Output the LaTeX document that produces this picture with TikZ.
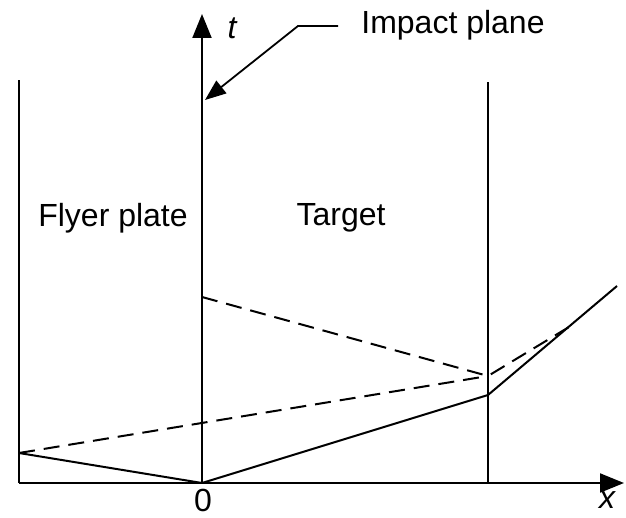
\documentclass[tikz,border=0pt]{standalone}
\usepackage{fontspec}
\setmainfont{Liberation Sans}
\usetikzlibrary{arrows.meta}
\tikzset{
  axis/.style={line width=2pt, -{Triangle[length=24pt, width=19pt]}},
  plate/.style={line width=2pt},
  wave/.style={line width=2pt, line join=round},
  release/.style={line width=2pt, dash pattern=on 16pt off 9pt},
  leader/.style={line width=1.8pt, -{Triangle[length=21pt, width=16pt]}},
  lbl/.style={font=\fontsize{32}{36}\selectfont, inner sep=0pt}
}

\begin{document}
\begin{tikzpicture}[x=1pt, y=-1pt]
  \useasboundingbox (0,0) rectangle (626,518);
  % points of the x-t diagram
  \coordinate (origin) at (202,483);
  \coordinate (xend) at (624,483);
  \coordinate (tend) at (202,14);
  \coordinate (left) at (19,483);
  \coordinate (lefttop) at (19,80);
  \coordinate (back) at (488,483);
  \coordinate (backtop) at (488,82);
  \coordinate (freeL) at (19,453);
  \coordinate (shock) at (488,395);
  \coordinate (shockout) at (617,286);
  \coordinate (refl) at (202,297);
  \coordinate (meet) at (488,376);
  \coordinate (meetout) at (569,327);
  % axes and plate boundaries
  \draw[axis] (left) -- (xend);
  \draw[axis] (origin) -- (tend);
  \draw[plate] (left) -- (lefttop);
  \draw[plate] (back) -- (backtop);
  % waves
  \draw[wave] (freeL) -- (origin) -- (shock) -- (shockout);
  \draw[release] (freeL) -- (meet);
  \draw[release] (refl) -- (meet) -- (meetout);
  % labels
  \node[lbl, font=\fontsize{32}{36}\selectfont\itshape] (tlabel) at (232,28) {t};
  \node[lbl] (impact) at (453,25) {Impact plane};
  \node[lbl] (flyer) at (113,218) {Flyer plate};
  \node[lbl] (target) at (341,218) {Target};
  \node[lbl] (zero) at (203,500) {0};
  \node[lbl, font=\fontsize{32}{36}\selectfont\itshape] (xlabel) at (607,500) {x};
  \coordinate (bend) at (298,26);
  \draw[leader] (338,26) -- (bend) -- (205,100);
\end{tikzpicture}
\end{document}
